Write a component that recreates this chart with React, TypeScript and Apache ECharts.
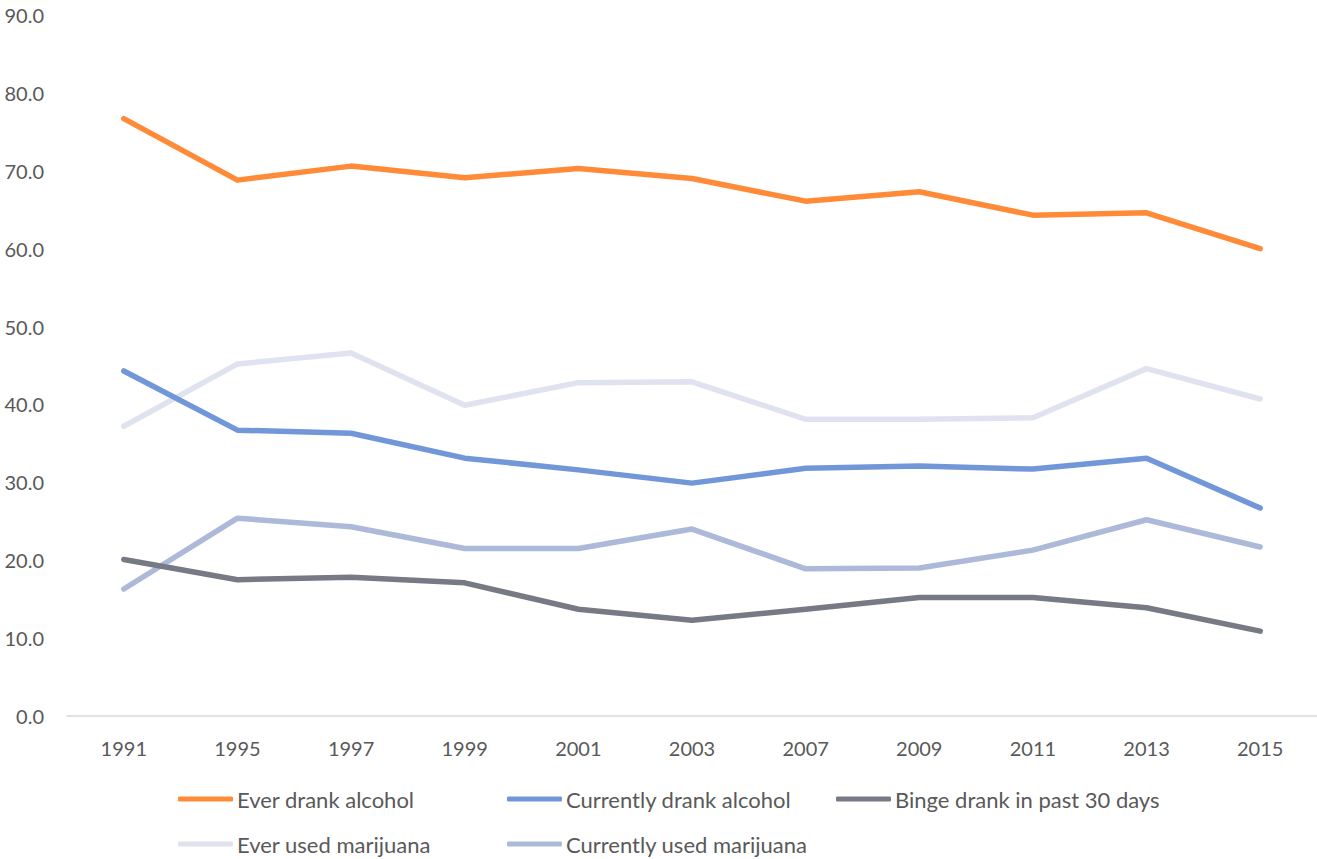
import React, { useEffect, useRef } from "react";
import * as echarts from "echarts";

const years = ["1991", "1995", "1997", "1999", "2001", "2003", "2007", "2009", "2011", "2013", "2015"];
const everDrank = [76.7, 68.8, 70.6, 69.1, 70.3, 69.0, 66.1, 67.3, 64.3, 64.6, 60.0];
const currentlyDrank = [44.3, 36.7, 36.3, 33.1, 31.6, 29.9, 31.8, 32.1, 31.7, 33.1, 26.7];
const bingeDrank = [20.1, 17.5, 17.8, 17.1, 13.7, 12.3, 13.7, 15.2, 15.2, 13.9, 10.9];
const everMarijuana = [37.2, 45.2, 46.6, 39.9, 42.8, 42.9, 38.1, 38.1, 38.3, 44.6, 40.7];
const currentlyMarijuana = [16.3, 25.4, 24.3, 21.5, 21.5, 24.0, 18.9, 19.0, 21.3, 25.2, 21.7];

const seriesNames = [
  "Ever drank alcohol",
  "Currently drank alcohol",
  "Binge drank in past 30 days",
  "Ever used marijuana",
  "Currently used marijuana",
];
const seriesData = [everDrank, currentlyDrank, bingeDrank, everMarijuana, currentlyMarijuana];
const colors = ["#FF8B38", "#7297D9", "#767A84", "#DFE3EF", "#ADB9D8"];

const FONT = "Lato, 'Noto Sans', sans-serif";

export default function App() {
  const ref = useRef<HTMLDivElement>(null);
  useEffect(() => {
    if (!ref.current) return;
    const chart = echarts.init(ref.current, null, { renderer: "svg" });
    const legendPos = [
      { left: 178, top: 788 },
      { left: 507, top: 788 },
      { left: 836, top: 788 },
      { left: 178, top: 833 },
      { left: 507, top: 833 },
    ];
    chart.setOption({
      animation: false,
      backgroundColor: "#ffffff",
      textStyle: { fontFamily: FONT },
      grid: { left: 67, right: 0, top: 15, bottom: 143, containLabel: false },
      legend: seriesNames.map((n, i) => ({
        data: [n],
        left: legendPos[i].left,
        top: legendPos[i].top,
        icon: "roundRect",
        itemWidth: 55,
        itemHeight: 5,
        padding: 0,
        textStyle: { fontFamily: FONT, fontSize: 22, color: "#595959", padding: [0, 0, 0, -1] },
        selectedMode: false,
      })),
      xAxis: {
        type: "category",
        data: years,
        boundaryGap: true,
        axisLine: { show: true, lineStyle: { color: "#D9D9D9", width: 1.5 } },
        axisTick: { show: false },
        axisLabel: { fontFamily: FONT, fontSize: 20, color: "#595959", margin: 22 },
        splitLine: { show: false },
      },
      yAxis: {
        type: "value",
        min: 0,
        max: 90,
        interval: 10,
        axisLine: { show: false },
        axisTick: { show: false },
        splitLine: { show: false },
        axisLabel: {
          fontFamily: FONT,
          fontSize: 20,
          color: "#595959",
          margin: 23,
          formatter: (v: number) => v.toFixed(1),
        },
      },
      series: seriesNames.map((n, i) => ({
        name: n,
        type: "line",
        data: seriesData[i],
        symbol: "none",
        color: colors[i],
        lineStyle: { width: 5.5, color: colors[i], cap: "round", join: "round" },
        z: 10 - i,
      })),
    });
    return () => chart.dispose();
  }, []);
  return (
    <div
      ref={ref}
      style={{ position: "absolute", left: 0, top: 0, width: 1317, height: 859 }}
    />
  );
}
